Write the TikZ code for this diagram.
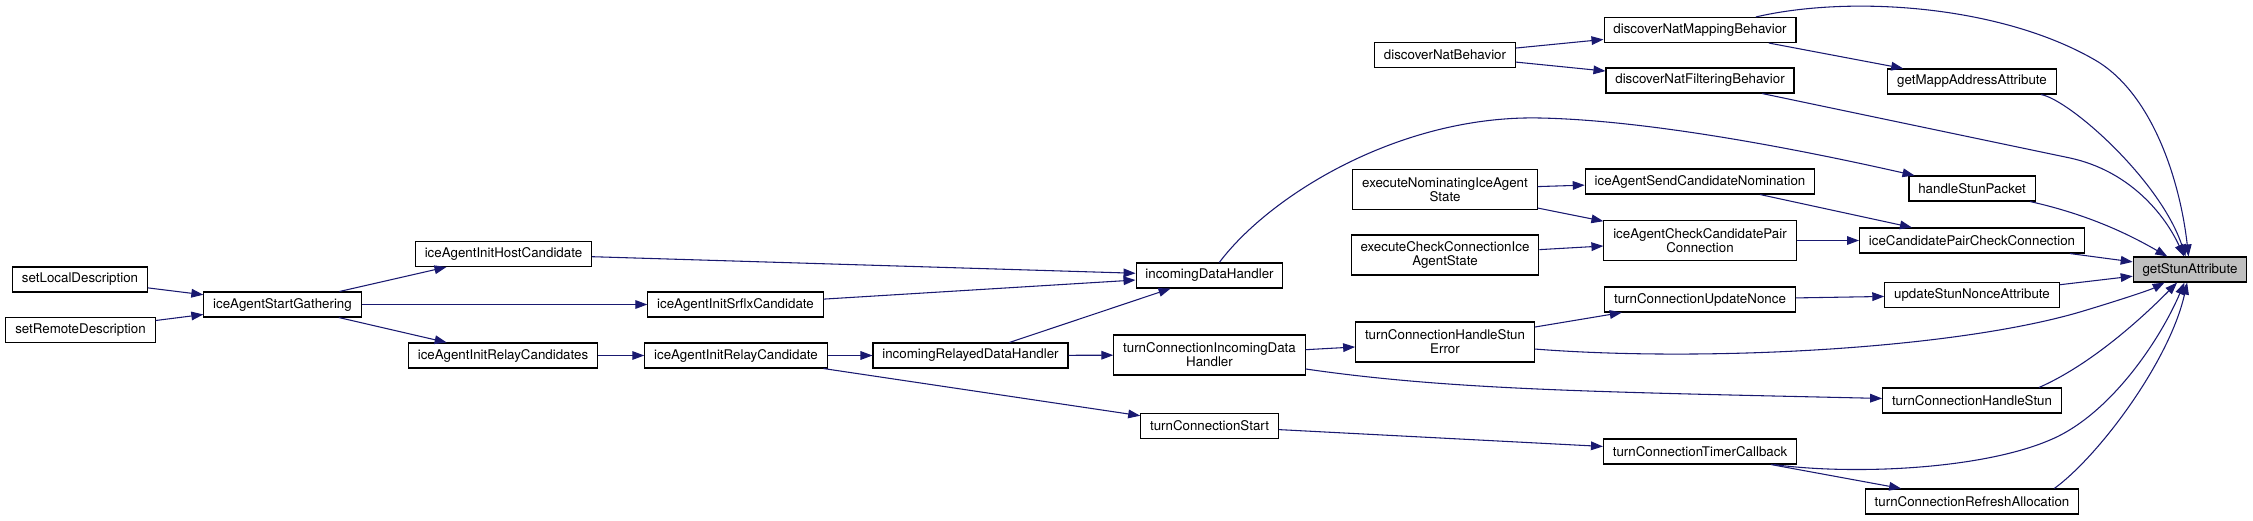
\documentclass[tikz,border=0pt]{standalone}
\usepackage{fontspec}
\setmainfont{TeX Gyre Heros}
\usetikzlibrary{arrows.meta}
\definecolor{callblue}{HTML}{191970}
\definecolor{rootgray}{HTML}{BFBFBF}
\tikzset{
  fnbox/.style={draw=black,line width=0.8pt,fill=white,inner xsep=7pt,inner ysep=0pt,minimum height=18.75pt,font=\fontsize{10}{10.5}\selectfont},
  fnboxII/.style={fnbox,align=center,minimum height=30pt},
  fnroot/.style={fnbox,fill=rootgray},
  fncall/.style={line width=0.8pt,callblue,-{Triangle[length=9pt,width=6.5pt]}},
}
\begin{document}
\begin{tikzpicture}[x=0.75pt,y=-0.75pt]
\useasboundingbox (0,0) rectangle (2253,521);
% callee
\node[fnroot] (getStun) at (2190,269.5) {getStunAttribute};
% direct callers
\node[fnbox] (getMapp) at (1972,81.5) {getMappAddressAttribute};
\node[fnbox] (handlePkt) at (1972,188.5) {handleStunPacket};
\node[fnbox] (pairCheck) at (1972,240.5) {iceCandidatePairCheckConnection};
\node[fnbox] (updNonce) at (1972,295) {updateStunNonceAttribute};
\node[fnbox] (turnStun) at (1972,400.5) {turnConnectionHandleStun};
\node[fnbox] (turnRefresh) at (1972,501.5) {turnConnectionRefreshAllocation};
% second column
\node[fnbox] (natMap) at (1700,30) {discoverNatMappingBehavior};
\node[fnbox] (natFilt) at (1700,80.5) {discoverNatFilteringBehavior};
\node[fnbox] (sendNom) at (1700,181.5) {iceAgentSendCandidateNomination};
\node[fnboxII] (agentPair) at (1700,240.5) {iceAgentCheckCandidatePair\\Connection};
\node[fnbox] (turnNonce) at (1700,299.5) {turnConnectionUpdateNonce};
\node[fnbox] (turnTimer) at (1700,451.5) {turnConnectionTimerCallback};
% third column
\node[fnbox] (natBeh) at (1445,55) {discoverNatBehavior};
\node[fnboxII] (execNom) at (1445,189.5) {executeNominatingIceAgent\\State};
\node[fnboxII] (execCheck) at (1445,255) {executeCheckConnectionIce\\AgentState};
\node[fnboxII] (turnStunErr) at (1445,342) {turnConnectionHandleStun\\Error};
% fourth column
\node[fnbox] (inData) at (1209.5,275.5) {incomingDataHandler};
\node[fnboxII] (turnInData) at (1209.5,355) {turnConnectionIncomingData\\Handler};
\node[fnbox] (turnStart) at (1209.5,426) {turnConnectionStart};
% gathering chain
\node[fnbox] (inRelayed) at (970.5,355.5) {incomingRelayedDataHandler};
\node[fnbox] (initSrflx) at (735.5,304.5) {iceAgentInitSrflxCandidate};
\node[fnbox] (initRelay) at (736,355.5) {iceAgentInitRelayCandidate};
\node[fnbox] (initHost) at (503.5,254) {iceAgentInitHostCandidate};
\node[fnbox] (initRelays) at (503,355.5) {iceAgentInitRelayCandidates};
\node[fnbox] (startGath) at (282.5,304.5) {iceAgentStartGathering};
\node[fnbox] (setLocal) at (80,279.5) {setLocalDescription};
\node[fnbox] (setRemote) at (80.5,330) {setRemoteDescription};
% straight calls
\foreach \a/\b in {setLocal/startGath,setRemote/startGath,startGath/initHost,startGath/initSrflx,
  startGath/initRelays,initHost/inData,initSrflx/inData,initRelays/initRelay,initRelay/inRelayed,
  initRelay/turnStart,inRelayed/inData,inRelayed/turnInData,turnInData/turnStunErr,turnStunErr/turnNonce,
  turnStart/turnTimer,natBeh/natMap,natBeh/natFilt,natMap/getMapp,execNom/sendNom,execNom/agentPair,
  execCheck/agentPair,sendNom/pairCheck,agentPair/pairCheck,pairCheck/getStun,turnNonce/updNonce,
  updNonce/getStun,turnTimer/turnRefresh}
  \draw[fncall] (\a) -- (\b);
% curved calls
\draw[fncall] (natMap) .. controls (1850,-5) and (2000,5) .. (2095,60)
  .. controls (2152,93) and (2180,180) .. (getStun);
\draw[fncall] (natFilt) -- (2070,158) .. controls (2130,171) and (2165,215) .. (getStun);
\draw[fncall] (getMapp) .. controls (2070,100) and (2160,180) .. (getStun);
\draw[fncall] (handlePkt) .. controls (2090,215) and (2130,235) .. (getStun);
\draw[fncall] (inData) .. controls (1270,195) and (1400,115) .. (1540,118)
  .. controls (1640,120) and (1780,145) .. (handlePkt);
\draw[fncall] (turnInData) .. controls (1450,390) and (1600,392) .. (turnStun);
\draw[fncall] (turnStunErr) .. controls (1700,362) and (1950,350) .. (2080,312)
  .. controls (2120,300) and (2150,290) .. (getStun);
\draw[fncall] (turnStun.11) .. controls (2090,365) and (2140,320) .. (getStun);
\draw[fncall] (turnTimer.-10) .. controls (1850,475) and (1980,470) .. (2050,440)
  .. controls (2110,415) and (2160,340) .. (getStun);
\draw[fncall] (turnRefresh.9) .. controls (2100,455) and (2170,360) .. (getStun);
\end{tikzpicture}
\end{document}
